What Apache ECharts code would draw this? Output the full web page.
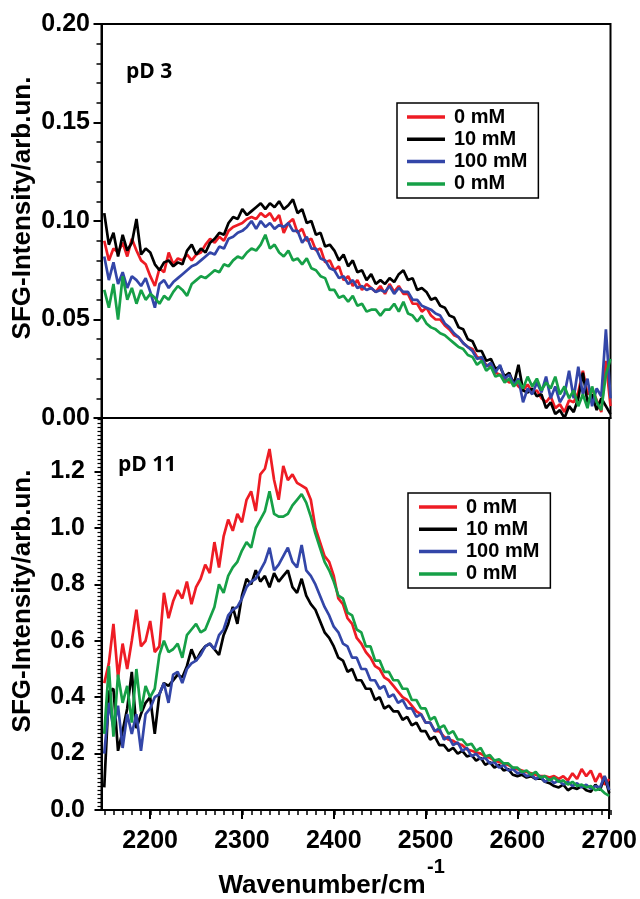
<!DOCTYPE html>
<html><head><meta charset="utf-8">
<script src="https://cdn.jsdelivr.net/npm/echarts/dist/echarts.min.js"></script>
<style>html,body{margin:0;padding:0;background:#fff}#c{width:640px;height:899px}</style>
</head><body><div id="c"></div><script>
// wavenumbers (cm^-1), one row per 50 cm^-1
var wavenumbers = [
 2150,2155,2160,2165,2170,2175,2180,2185,2190,2195,
 2200,2205,2210,2215,2220,2225,2230,2235,2240,2245,
 2250,2255,2260,2265,2270,2275,2280,2285,2290,2295,
 2300,2305,2310,2315,2320,2325,2330,2335,2340,2345,
 2350,2355,2360,2365,2370,2375,2380,2385,2390,2395,
 2400,2405,2410,2415,2420,2425,2430,2435,2440,2445,
 2450,2455,2460,2465,2470,2475,2480,2485,2490,2495,
 2500,2505,2510,2515,2520,2525,2530,2535,2540,2545,
 2550,2555,2560,2565,2570,2575,2580,2585,2590,2595,
 2600,2605,2610,2615,2620,2625,2630,2635,2640,2645,
 2650,2655,2660,2665,2670,2675,2680,2685,2690,2695,
 2700];

var seriesNames = ['0 mM', '10 mM', '100 mM', '0 mM '];
var seriesColors = ['#ee1c24', '#000000', '#3346a8', '#16a047'];

// pD 3 panel
var pd3_0mM = [
 0.090,0.080,0.086,0.084,0.089,0.082,0.091,0.085,0.080,0.078,
 0.072,0.067,0.076,0.074,0.084,0.078,0.081,0.080,0.083,0.080,
 0.083,0.084,0.088,0.091,0.089,0.092,0.090,0.095,0.097,0.098,
 0.099,0.101,0.102,0.101,0.104,0.102,0.104,0.100,0.103,0.094,
 0.099,0.101,0.094,0.096,0.090,0.091,0.085,0.086,0.079,0.080,
 0.075,0.077,0.070,0.072,0.067,0.070,0.065,0.068,0.066,0.064,
 0.067,0.063,0.068,0.064,0.067,0.063,0.063,0.058,0.058,0.054,
 0.056,0.052,0.050,0.050,0.047,0.045,0.042,0.041,0.038,0.036,
 0.035,0.031,0.030,0.027,0.026,0.023,0.022,0.020,0.018,0.019,
 0.016,0.014,0.017,0.013,0.014,0.010,0.008,0.011,0.005,0.007,
 0.003,0.009,0.008,0.013,0.024,0.012,0.015,0.009,0.003,0.029,
 0.006];
var pd3_10mM = [
 0.104,0.088,0.094,0.082,0.093,0.085,0.089,0.101,0.083,0.086,
 0.084,0.078,0.075,0.079,0.080,0.077,0.079,0.078,0.085,0.088,
 0.083,0.086,0.084,0.089,0.091,0.094,0.093,0.099,0.102,0.101,
 0.106,0.103,0.105,0.107,0.109,0.106,0.109,0.107,0.110,0.106,
 0.108,0.111,0.104,0.106,0.099,0.100,0.093,0.094,0.087,0.088,
 0.085,0.080,0.083,0.077,0.080,0.074,0.075,0.070,0.073,0.068,
 0.070,0.068,0.071,0.069,0.073,0.075,0.070,0.071,0.065,0.066,
 0.064,0.060,0.061,0.057,0.056,0.052,0.051,0.046,0.045,0.040,
 0.039,0.034,0.034,0.029,0.030,0.025,0.026,0.021,0.023,0.017,
 0.027,0.014,0.013,0.015,0.011,0.012,0.005,0.008,0.002,0.004,
 0.000,0.006,0.003,0.010,0.023,0.008,0.012,0.004,0.010,0.006,
 0.002];
var pd3_100mM = [
 0.082,0.070,0.079,0.068,0.074,0.066,0.072,0.070,0.067,0.071,
 0.064,0.056,0.068,0.070,0.066,0.069,0.071,0.073,0.075,0.077,
 0.078,0.080,0.082,0.084,0.083,0.087,0.086,0.091,0.092,0.094,
 0.095,0.097,0.100,0.096,0.100,0.097,0.099,0.096,0.098,0.097,
 0.099,0.095,0.095,0.089,0.092,0.086,0.086,0.081,0.080,0.076,
 0.075,0.071,0.072,0.068,0.070,0.066,0.067,0.065,0.066,0.064,
 0.065,0.064,0.067,0.063,0.066,0.064,0.064,0.060,0.060,0.057,
 0.056,0.055,0.053,0.052,0.048,0.046,0.043,0.041,0.038,0.036,
 0.034,0.030,0.031,0.026,0.028,0.023,0.027,0.020,0.022,0.017,
 0.020,0.008,0.015,0.012,0.018,0.013,0.021,0.010,0.016,0.008,
 0.012,0.024,0.010,0.026,0.012,0.020,0.006,0.015,0.011,0.045,
 0.010];
var pd3_0mMb = [
 0.065,0.056,0.068,0.050,0.072,0.060,0.066,0.058,0.065,0.060,
 0.063,0.061,0.058,0.062,0.060,0.064,0.067,0.065,0.062,0.068,
 0.070,0.072,0.071,0.073,0.075,0.074,0.078,0.077,0.080,0.082,
 0.081,0.084,0.086,0.085,0.088,0.093,0.086,0.088,0.084,0.082,
 0.085,0.080,0.081,0.078,0.081,0.076,0.075,0.072,0.071,0.065,
 0.065,0.061,0.062,0.059,0.062,0.057,0.058,0.054,0.055,0.055,
 0.052,0.055,0.055,0.058,0.054,0.059,0.053,0.052,0.049,0.052,
 0.048,0.046,0.045,0.043,0.042,0.040,0.038,0.036,0.035,0.032,
 0.031,0.027,0.029,0.024,0.026,0.021,0.022,0.018,0.020,0.016,
 0.019,0.015,0.021,0.016,0.020,0.014,0.018,0.015,0.021,0.012,
 0.016,0.010,0.014,0.006,0.012,0.005,0.016,0.008,0.004,0.022,
 0.030];

// pD 11 panel
var pd11_0mM = [
 0.45,0.52,0.66,0.47,0.59,0.50,0.60,0.71,0.58,0.60,
 0.67,0.56,0.58,0.77,0.68,0.74,0.78,0.75,0.81,0.73,
 0.79,0.82,0.87,0.84,0.95,0.86,0.97,1.03,0.99,1.05,
 1.02,1.10,1.13,1.06,1.19,1.21,1.28,1.17,1.10,1.22,
 1.17,1.19,1.16,1.15,1.14,1.10,1.00,0.95,0.90,0.88,
 0.83,0.75,0.73,0.68,0.66,0.61,0.59,0.56,0.54,0.51,
 0.50,0.47,0.46,0.44,0.42,0.40,0.39,0.37,0.35,0.34,
 0.31,0.31,0.28,0.28,0.26,0.25,0.245,0.235,0.23,0.215,
 0.21,0.205,0.20,0.19,0.185,0.175,0.17,0.165,0.16,0.15,
 0.145,0.14,0.135,0.13,0.125,0.12,0.12,0.115,0.12,0.11,
 0.12,0.105,0.13,0.11,0.145,0.12,0.14,0.10,0.13,0.09,
 0.11];
var pd11_10mM = [
 0.08,0.42,0.43,0.21,0.28,0.36,0.49,0.29,0.34,0.38,
 0.40,0.27,0.41,0.45,0.44,0.46,0.48,0.47,0.51,0.57,
 0.53,0.56,0.58,0.59,0.57,0.55,0.62,0.66,0.72,0.66,
 0.76,0.82,0.80,0.85,0.81,0.83,0.79,0.84,0.81,0.83,
 0.85,0.79,0.77,0.82,0.76,0.73,0.71,0.67,0.63,0.61,
 0.58,0.54,0.53,0.49,0.50,0.46,0.46,0.43,0.43,0.39,
 0.40,0.36,0.37,0.35,0.35,0.32,0.33,0.30,0.31,0.28,
 0.28,0.25,0.26,0.23,0.23,0.21,0.22,0.20,0.21,0.19,
 0.195,0.175,0.185,0.16,0.17,0.15,0.16,0.14,0.145,0.125,
 0.12,0.125,0.115,0.12,0.11,0.115,0.10,0.095,0.085,0.08,
 0.09,0.07,0.08,0.075,0.085,0.07,0.065,0.09,0.07,0.12,
 0.06];
var pd11_100mM = [
 0.20,0.38,0.29,0.37,0.22,0.34,0.27,0.34,0.21,0.34,
 0.36,0.40,0.41,0.45,0.38,0.48,0.49,0.45,0.50,0.52,
 0.53,0.55,0.58,0.59,0.57,0.62,0.64,0.69,0.71,0.72,
 0.75,0.79,0.81,0.82,0.85,0.88,0.93,0.85,0.87,0.90,
 0.93,0.88,0.86,0.94,0.85,0.83,0.80,0.76,0.72,0.69,
 0.65,0.63,0.59,0.58,0.54,0.54,0.50,0.50,0.46,0.46,
 0.43,0.44,0.40,0.41,0.38,0.39,0.36,0.36,0.33,0.34,
 0.31,0.31,0.28,0.29,0.25,0.26,0.23,0.24,0.21,0.22,
 0.19,0.20,0.18,0.185,0.165,0.17,0.15,0.16,0.14,0.145,
 0.13,0.135,0.12,0.125,0.11,0.12,0.10,0.11,0.095,0.105,
 0.09,0.10,0.085,0.095,0.08,0.09,0.075,0.085,0.08,0.12,
 0.07];
var pd11_0mMb = [
 0.27,0.51,0.26,0.48,0.38,0.44,0.31,0.50,0.35,0.44,
 0.40,0.43,0.55,0.60,0.56,0.57,0.59,0.54,0.62,0.64,
 0.66,0.63,0.64,0.68,0.72,0.80,0.77,0.83,0.86,0.88,
 0.92,0.95,0.93,1.00,1.03,1.06,1.13,1.05,1.04,1.04,
 1.05,1.08,1.10,1.12,1.09,1.04,0.98,0.93,0.88,0.85,
 0.81,0.76,0.75,0.70,0.69,0.64,0.63,0.58,0.58,0.53,
 0.53,0.49,0.49,0.46,0.46,0.43,0.43,0.39,0.39,0.36,
 0.36,0.32,0.33,0.29,0.30,0.27,0.28,0.25,0.25,0.23,
 0.235,0.21,0.22,0.19,0.195,0.175,0.18,0.165,0.165,0.15,
 0.15,0.135,0.14,0.125,0.135,0.115,0.12,0.105,0.115,0.10,
 0.105,0.09,0.10,0.085,0.09,0.08,0.085,0.07,0.075,0.06,
 0.05];

var pd3Ticks = [0, 0.05, 0.10, 0.15, 0.20];
var pd11Ticks = [0, 0.2, 0.4, 0.6, 0.8, 1.0, 1.2];
var xTicks = [2200, 2300, 2400, 2500, 2600, 2700];

function pairs(ys) {
  var out = [];
  for (var i = 0; i < wavenumbers.length && i < ys.length; i++) out.push([wavenumbers[i], ys[i]]);
  return out;
}
var FONT = '"Liberation Sans", Arial, sans-serif';
var L = 101.5, R = 29.5;

var chart = echarts.init(document.getElementById('c'), null, {renderer: 'canvas'});
function mkSeries(arrs, xi, yi) {
  return arrs.map(function (a, k) {
    return {
      type: 'line', name: seriesNames[k], xAxisIndex: xi, yAxisIndex: yi,
      data: pairs(a), symbol: 'none', showSymbol: false, smooth: false,
      lineStyle: {width: 2.7, color: seriesColors[k]}, itemStyle: {color: seriesColors[k]},
      emphasis: {disabled: true}, silent: true, z: 2 + k
    };
  });
}
var legendCommon = {
  orient: 'vertical', itemWidth: 38, itemHeight: 3.5, itemGap: 2.3,
  borderColor: '#000', borderWidth: 1.5, backgroundColor: '#fff',
  icon: 'rect', selectedMode: false,
  textStyle: {fontSize: 20, fontWeight: 'bold', color: '#000', fontFamily: FONT, lineHeight: 20, padding: [0, 0, 0, 4]},
  formatter: function (n) { return n.trim(); },
  data: seriesNames.map(function (n) { return {name: n}; })
};
var tickLbl = {fontSize: 25, fontWeight: 'bold', color: '#000', fontFamily: FONT};

var option = {
  animation: false,
  backgroundColor: '#fff',
  grid: [
    {left: L, right: R, top: 24, height: 394, show: true, borderColor: '#000', borderWidth: 2, backgroundColor: 'transparent', containLabel: false},
    {left: L, right: R, top: 418, height: 392, show: true, borderColor: '#000', borderWidth: 2, backgroundColor: 'transparent', containLabel: false},
    {left: L + 3 * 0.9186, right: R, top: 418, height: 392, show: false, containLabel: false}
  ],
  xAxis: [
    {type: 'value', gridIndex: 0, min: 2147, max: 2700, axisLine: {show: true, lineStyle: {color: '#000', width: 2}},
     axisTick: {show: false}, axisLabel: {show: false}, splitLine: {show: false}},
    {type: 'value', gridIndex: 1, min: 2147, max: 2700, splitNumber: 5,
     axisLine: {show: true, onZero: false, lineStyle: {color: '#000', width: 2}},
     axisTick: {show: true, length: 9, lineStyle: {color: '#000', width: 2}},
     axisLabel: Object.assign({margin: 18.5, showMinLabel: false,
       formatter: function (v) { return xTicks.indexOf(Math.round(v)) >= 0 && Math.abs(v - Math.round(v)) < 1e-6 ? String(Math.round(v)) : ''; }}, tickLbl),
     splitLine: {show: false}},
    {type: 'value', gridIndex: 2, min: 2150, max: 2700, interval: 10,
     axisLine: {show: false, onZero: false}, axisTick: {show: true, length: 5, lineStyle: {color: '#000', width: 1.5}},
     axisLabel: {show: false}, splitLine: {show: false}}
  ],
  yAxis: [
    {type: 'value', gridIndex: 0, min: 0, max: 0.2, interval: 0.05,
     axisLine: {show: true, onZero: false, lineStyle: {color: '#000', width: 2}},
     axisTick: {show: true, length: 8, lineStyle: {color: '#000', width: 2}},
     minorTick: {show: true, splitNumber: 5, length: 5, lineStyle: {color: '#000', width: 1.5}},
     axisLabel: Object.assign({margin: 11.5, formatter: function (v) {
       for (var i = 0; i < pd3Ticks.length; i++) if (Math.abs(v - pd3Ticks[i]) < 1e-6) return pd3Ticks[i].toFixed(2);
       return ''; }}, tickLbl),
     splitLine: {show: false}, minorSplitLine: {show: false}},
    {type: 'value', gridIndex: 1, min: 0, max: 1.39, interval: 0.2,
     axisLine: {show: true, onZero: false, lineStyle: {color: '#000', width: 2}},
     axisTick: {show: true, length: 7, lineStyle: {color: '#000', width: 2}},
     minorTick: {show: true, splitNumber: 14, length: 4, lineStyle: {color: '#000', width: 1.2}},
     axisLabel: Object.assign({margin: 16.5, showMaxLabel: false, formatter: function (v) {
       for (var i = 0; i < pd11Ticks.length; i++) if (Math.abs(v - pd11Ticks[i]) < 1e-6) return pd11Ticks[i].toFixed(1);
       return ''; }}, tickLbl),
     splitLine: {show: false}, minorSplitLine: {show: false}},
    {type: 'value', gridIndex: 2, min: 0, max: 1, show: false}
  ],
  legend: [
    Object.assign({left: 397, top: 103, padding: [4, 11, 4, 10]}, legendCommon),
    Object.assign({left: 408, top: 493, padding: [4, 11, 4, 11]}, legendCommon)
  ],
  graphic: [
    {type: 'text', x: 126, y: 72.5, style: {text: 'pD 3', font: 'bold 21px "Open Sans", sans-serif', fill: '#000', textAlign: 'left', textVerticalAlign: 'middle'}},
    {type: 'text', x: 118, y: 465, style: {text: 'pD 11', font: 'bold 21px "Open Sans", sans-serif', fill: '#000', textAlign: 'left', textVerticalAlign: 'middle'}},
    {type: 'text', x: 23, y: 208, rotation: Math.PI / 2, style: {text: 'SFG-Intensity/arb.un.', font: 'bold 26px ' + FONT, fill: '#000', textAlign: 'center', textVerticalAlign: 'middle'}},
    {type: 'text', x: 23, y: 601, rotation: Math.PI / 2, style: {text: 'SFG-Intensity/arb.un.', font: 'bold 26px ' + FONT, fill: '#000', textAlign: 'center', textVerticalAlign: 'middle'}},
    {type: 'text', x: 322, y: 886, style: {text: 'Wavenumber/cm', font: 'bold 26px ' + FONT, fill: '#000', textAlign: 'center', textVerticalAlign: 'middle'}},
    {type: 'text', x: 427, y: 867.5, style: {text: '-1', font: 'bold 20px ' + FONT, fill: '#000', textAlign: 'left', textVerticalAlign: 'middle'}}
  ],
  series: [].concat(
    mkSeries([pd3_0mM, pd3_10mM, pd3_100mM, pd3_0mMb], 0, 0),
    mkSeries([pd11_0mM, pd11_10mM, pd11_100mM, pd11_0mMb], 1, 1)
  )
};
chart.setOption(option);
</script></body></html>
